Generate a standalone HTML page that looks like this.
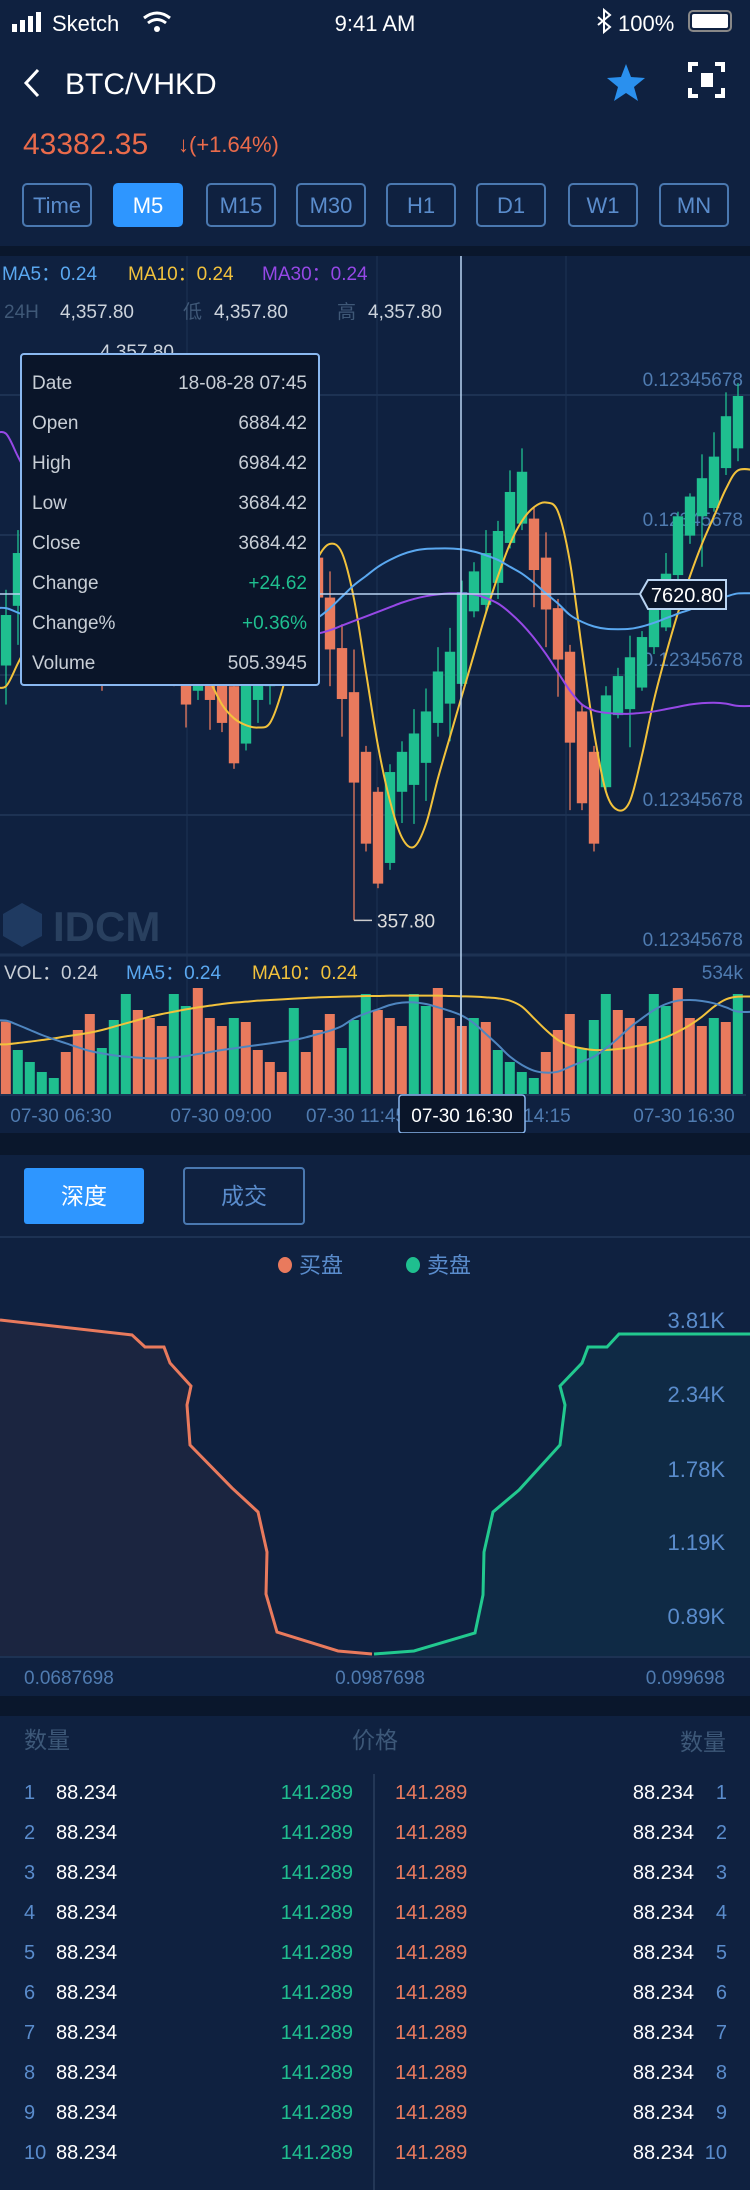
<!DOCTYPE html>
<html><head><meta charset="utf-8">
<style>
html,body{margin:0;padding:0;background:#0f2140;width:750px;height:2190px;overflow:hidden;font-family:"Liberation Sans","Noto Sans CJK SC",sans-serif;}
svg{position:absolute;left:0;top:0;}
text{font-family:"Liberation Sans","Noto Sans CJK SC",sans-serif;}
</style></head>
<body>
<svg id="root" width="750" height="2190" viewBox="0 0 750 2190" xmlns="http://www.w3.org/2000/svg">
<rect x="0" y="0" width="750" height="2190" fill="#0f2140"/>
<!-- status bar -->
<g fill="#fff">
<rect x="12" y="24" width="5" height="8"/><rect x="20" y="20" width="5" height="12"/><rect x="28" y="16" width="5" height="16"/><rect x="36" y="12" width="5" height="20"/>
<text x="52" y="31" font-size="22">Sketch</text>
<path d="M144 18 Q157 8 170 18" stroke="#fff" stroke-width="3" fill="none"/><path d="M148 23 Q157 16 166 23" stroke="#fff" stroke-width="3" fill="none"/><circle cx="157" cy="29" r="3"/>
<text x="375" y="31" font-size="22" text-anchor="middle">9:41 AM</text>
<path d="M598 17 L610 27 L604 32 L604 10 L610 15 L598 25" stroke="#fff" stroke-width="2" fill="none"/>
<text x="618" y="31" font-size="22">100%</text>
<rect x="689" y="11" width="42" height="20" rx="4" fill="none" stroke="#888" stroke-width="2"/>
<rect x="692" y="14" width="36" height="14" rx="2"/>
</g>
<!-- header -->
<polyline points="38,70 26,83 38,96" stroke="#fff" stroke-width="3" fill="none"/>
<text x="65" y="94" font-size="30" fill="#fff">BTC/VHKD</text>
<polygon points="626,64 631,77 645,78 634,87 638,101 626,93 614,101 618,87 607,78 621,77" fill="#2a90ee"/>
<g stroke="#fff" stroke-width="4" fill="none">
<polyline points="690,72 690,64 698,64"/><polyline points="715,64 723,64 723,72"/><polyline points="690,88 690,96 698,96"/><polyline points="715,96 723,96 723,88"/>
<rect x="701" y="73" width="12" height="14" fill="#fff" stroke="none"/>
</g>
<text x="23" y="154" font-size="30" fill="#ea6b4b">43382.35</text>
<text x="178" y="152" font-size="22" fill="#ea6b4b">↓(+1.64%)</text>
<g id="periods"></g>
<rect x="0" y="246" width="750" height="10" fill="#0a172c"/>
<g id="kline"></g>
<g id="depth"></g>
<g id="book"></g>
</svg>
<script>
// ===== K-line data =====
const opens  = [695,825,900,840,950,860,780,880,780,700,800,880,800,720,800,720,640,700,700,650,525,620,650,800,880,820,930,843,733,637,507,420,265,420,435,483,570,612,655,813,827,875,962,1004,1015,930,820,725,595,507,430,587,600,647,735,778,892,978,1020,1038,1125,1168];
const closes = [805,940,800,960,840,750,900,720,660,820,900,780,700,840,670,610,740,620,570,482,660,700,750,700,780,900,843,730,622,440,307,220,463,507,547,595,682,725,855,900,940,988,1073,1117,903,817,708,527,395,307,630,672,713,757,822,895,1020,1063,1103,1150,1238,1282];
const highs  = [860,990,950,1000,975,880,920,900,800,840,930,900,820,860,820,740,760,750,720,670,680,720,770,820,900,920,960,900,785,730,520,430,480,530,600,645,735,777,880,920,990,1010,1120,1168,1040,985,840,740,610,520,650,690,760,770,873,940,1030,1070,1155,1203,1290,1310];
const lows   = [610,740,750,800,810,720,760,690,640,680,780,760,680,700,650,560,620,555,550,470,510,570,610,680,760,800,800,650,540,140,290,210,250,352,350,400,540,530,650,800,810,840,950,990,822,735,627,380,380,290,420,580,517,640,720,770,880,960,910,1030,1110,1140];
const ma5  = [820,810,800,790,780,770,760,750,740,730,725,720,720,720,720,725,730,735,740,750,760,770,780,785,790,795,800,820,845,870,890,910,925,937,945,949,950,950,948,943,935,925,910,895,875,852,830,805,790,780,775,774,775,780,788,798,808,817,828,837,845,852];
const ma10 = [650,700,750,780,800,820,840,820,780,740,720,740,760,750,730,720,700,660,610,580,565,560,570,640,750,860,930,960,940,840,680,520,400,320,300,350,450,540,630,720,810,890,960,1010,1040,1050,1030,920,730,550,420,380,400,500,620,720,810,890,960,1020,1080,1120];
const ma30 = [1200,1150,1100,1060,1020,980,940,900,860,830,800,780,760,745,735,730,730,732,735,740,745,750,755,760,762,764,765,772,782,792,802,812,822,832,840,846,850,852,852,850,842,830,810,785,755,720,680,640,610,597,592,590,590,592,595,600,605,610,613,614,612,607];
const volumes = [217,132,96,66,48,126,192,240,138,222,300,252,228,204,300,264,318,228,204,228,216,132,96,66,258,126,192,240,138,222,300,252,228,204,300,264,318,228,204,228,216,132,96,66,48,126,192,240,138,222,300,252,228,204,300,264,318,228,204,228,216,300];
const volUp = [0,1,1,1,1,0,0,0,1,1,1,0,0,0,1,1,0,0,0,1,0,0,0,0,1,0,0,0,1,1,1,0,0,0,1,1,0,0,0,1,0,1,1,1,1,0,0,0,1,1,1,0,0,0,1,1,0,0,0,1,0,1];
const volMa5 = [220,207,192,177,164,152,140,129,122,116,112,109,107,107,110,114,120,126,132,137,142,147,152,157,162,170,180,190,204,227,242,254,267,274,275,270,260,249,235,212,180,147,112,87,70,64,67,82,97,112,137,167,200,227,252,270,280,282,279,272,260,247];
const volMa10 = [149,153,157,162,167,173,178,184,192,202,212,222,232,240,247,254,260,265,270,274,277,280,282,284,286,288,290,291,292,293,294,294,295,295,295,295,295,294,293,292,290,287,280,262,227,192,162,145,137,132,132,135,140,147,157,170,187,207,232,262,284,292];
const priceTicks = ["0.12345678","0.12345678","0.12345678","0.12345678","0.12345678"];
const timeTicks = ["07-30 06:30","07-30 09:00","07-30 11:45","07-30 14:15","07-30 16:30"];
const periods = ["Time","M5","M15","M30","H1","D1","W1","MN"];
// ===== Depth data =====
const bidPrices = [0.0600,0.0732,0.0745,0.0764,0.0770,0.0791,0.0787,0.0790,0.0832,0.0858,0.0867,0.0866,0.0877,0.0938,0.0972];
const bidVolumes = [3810,3640,3503,3503,3322,3061,2846,2392,1905,1633,1179,703,272,57,23];
const askPrices = [0.0974,0.1014,0.1075,0.1083,0.1084,0.1093,0.1119,0.1160,0.1165,0.1160,0.1182,0.1188,0.1207,0.1219,0.1350];
const askVolumes = [23,57,261,692,1179,1633,1882,2392,2846,3061,3322,3503,3503,3651,3651];
const depthTicks = ["3.81K","2.34K","1.78K","1.19K","0.89K"];
const depthPriceLabels = ["0.0687698","0.0987698","0.099698"];
const bookQty = ["88.234","88.234","88.234","88.234","88.234","88.234","88.234","88.234","88.234","88.234"];
const bookPrice = ["141.289","141.289","141.289","141.289","141.289","141.289","141.289","141.289","141.289","141.289"];

const NS='http://www.w3.org/2000/svg';
const GREEN='#1fbf8f', RED='#e97a5d';
function mk(parent,tag,attrs,txt){const e=document.createElementNS(NS,tag);for(const k in attrs)e.setAttribute(k,attrs[k]);if(txt!==undefined)e.textContent=txt;parent.appendChild(e);return e;}
function smooth(pts){let d='M'+pts[0][0]+','+pts[0][1];for(let i=0;i<pts.length-1;i++){const p0=pts[Math.max(0,i-1)],p1=pts[i],p2=pts[i+1],p3=pts[Math.min(pts.length-1,i+2)];d+=' C'+(p1[0]+(p2[0]-p0[0])/6)+','+(p1[1]+(p2[1]-p0[1])/6)+' '+(p2[0]-(p3[0]-p1[0])/6)+','+(p2[1]-(p3[1]-p1[1])/6)+' '+p2[0]+','+p2[1];}return d;}
// axes
const P_MAX=1600, P_Y0=250, P_SCALE=2.178;
function xk(i){return 6+12*i;}
function yp(p){return P_Y0+(P_MAX-p)/P_SCALE;}
const VOL_BASE=1094, VOL_SCALE=3;
function yv(v){return VOL_BASE-v/VOL_SCALE;}

// period buttons
const pg=document.getElementById('periods');
const pbx=[23,114,207,297,387,477,569,660];
periods.forEach((p,i)=>{
  const r=mk(pg,'rect',{x:pbx[i],y:184,width:68,height:42,rx:4,fill:p==='M5'?'#2e96ff':'none',stroke:p==='M5'?'#2e96ff':'#4a78b0','stroke-width':2});
  
  
  const t=mk(pg,'text',{x:pbx[i]+34,y:213,'font-size':22,'text-anchor':'middle',fill:p==='M5'?'#fff':'#5a8ccc'},p);
  
  
});

// kline
const kg=document.getElementById('kline');
const defs=mk(kg,'defs',{});
const cp=mk(defs,'clipPath',{id:'kclip'});mk(cp,'rect',{x:0,y:256,width:750,height:698});
const cpv=mk(defs,'clipPath',{id:'vclip'});mk(cpv,'rect',{x:0,y:990,width:750,height:104});
// grid
[395,535,675,815].forEach(y=>{const l=mk(kg,'line',{x1:0,x2:750,y1:y,y2:y,stroke:'#1d3253','stroke-width':2});});
mk(kg,'line',{x1:0,x2:750,y1:955,y2:955,stroke:'#1d3253','stroke-width':3});
[187,377,566].forEach(x=>{const l=mk(kg,'line',{x1:x,x2:x,y1:256,y2:1094,stroke:'#1d3253','stroke-width':1});});
// watermark
const wm=mk(kg,'g',{opacity:0.35});

mk(wm,'polygon',{points:'22,903 42,914 42,936 22,947 3,936 3,914',fill:'#3d6a9e'});
mk(wm,'text',{x:53,y:941,'font-size':42,'font-weight':'bold',fill:'#5a7a99'},'IDCM');
// price labels
const tickY=[379,519,659,799,939];
priceTicks.forEach((t,i)=>{const e=mk(kg,'text',{x:743,y:tickY[i]+7,'font-size':19,'text-anchor':'end',fill:'#4f7bb0'},t);});
const cg=mk(kg,'g',{'clip-path':'url(#kclip)'});
opens.forEach((o,i)=>{
  const c=closes[i],up=c>=o,col=up?GREEN:RED,x=xk(i);
  const w=mk(cg,'line',{x1:x,x2:x,y1:yp(highs[i]),y2:yp(lows[i]),stroke:col,'stroke-width':1.3});
  
  const top=yp(Math.max(o,c)),bot=yp(Math.min(o,c));
  const b=mk(cg,'rect',{x:x-5.2,y:top,width:10.4,height:Math.max(1,bot-top),fill:col});
  
});
[[ma10,'#f2c23c','ma10-line'],[ma5,'#5aa8f0','ma5-line'],[ma30,'#9648e6','ma30-line']].forEach(([arr,col,nm])=>{
  const pts=arr.map((v,i)=>[xk(i),yp(v)]);pts.unshift([-6,pts[0][1]]);pts.push([756,pts[pts.length-1][1]]);
  const p=mk(cg,'path',{d:smooth(pts),stroke:col,'stroke-width':2,fill:'none'});
  
});
// low label
const li=29;
mk(kg,'line',{x1:xk(li),x2:xk(li)+18,y1:yp(lows[li]),y2:yp(lows[li]),stroke:'#ccc','stroke-width':1.5});
const ll=mk(kg,'text',{x:xk(li)+23,y:yp(lows[li])+7,'font-size':19,fill:'#ddd'},'357.80');

// legend
const lg=mk(kg,'g',{'font-size':19});

mk(lg,'text',{x:2,y:280,fill:'#5aa8f0'},'MA5：0.24');
mk(lg,'text',{x:128,y:280,fill:'#f2c23c'},'MA10：0.24');
mk(lg,'text',{x:262,y:280,fill:'#9648e6'},'MA30：0.24');
const sg=mk(kg,'g',{'font-size':19});

mk(sg,'text',{x:4,y:318,fill:'#3f5877'},'24H');mk(sg,'text',{x:60,y:318,fill:'#ccd3dc'},'4,357.80');
mk(sg,'text',{x:183,y:318,fill:'#3f5877'},'低');mk(sg,'text',{x:214,y:318,fill:'#ccd3dc'},'4,357.80');
mk(sg,'text',{x:337,y:318,fill:'#3f5877'},'高');mk(sg,'text',{x:368,y:318,fill:'#ccd3dc'},'4,357.80');
mk(kg,'text',{x:100,y:358,'font-size':19,fill:'#ccd3dc'},'4,357.80');
// crosshair
mk(kg,'line',{x1:461,x2:461,y1:256,y2:1094,stroke:'#b9d4f2','stroke-width':1.5});
mk(kg,'line',{x1:0,x2:640,y1:594,y2:594,stroke:'#b9d4f2','stroke-width':1.5});
const cl=mk(kg,'g',{});

mk(cl,'polygon',{points:'640,594 648,580 726,580 726,609 648,609',fill:'#0a1529',stroke:'#b9d4f2','stroke-width':2});
mk(cl,'text',{x:687,y:602,'font-size':20,'text-anchor':'middle',fill:'#fff'},'7620.80');
// tooltip
const tt=mk(kg,'g',{});

mk(tt,'rect',{x:21,y:354,width:298,height:331,rx:3,fill:'#0a1529',stroke:'#8ab8f0','stroke-width':2});
const tlab=['Date','Open','High','Low','Close','Change','Change%','Volume'];
const tval=['18-08-28 07:45','6884.42','6984.42','3684.42','3684.42','+24.62','+0.36%','505.3945'];
tlab.forEach((l,i)=>{const y=389+40*i;mk(tt,'text',{x:32,y:y,'font-size':19,fill:'#c8ced6'},l);mk(tt,'text',{x:307,y:y,'font-size':19,'text-anchor':'end',fill:(i===5||i===6)?GREEN:'#c8ced6'},tval[i]);});
// volume
const vg=mk(kg,'g',{});
const vleg=mk(vg,'g',{'font-size':19});

mk(vleg,'text',{x:4,y:979,fill:'#c8ced6'},'VOL：0.24');mk(vleg,'text',{x:126,y:979,fill:'#5aa8f0'},'MA5：0.24');mk(vleg,'text',{x:252,y:979,fill:'#f2c23c'},'MA10：0.24');
mk(vleg,'text',{x:743,y:979,'text-anchor':'end',fill:'#4f7bb0'},'534k');
volumes.forEach((v,i)=>{const b=mk(vg,'rect',{x:xk(i)-5.2,y:yv(v),width:10,height:v/VOL_SCALE,fill:volUp[i]?GREEN:RED});});
const vcg=mk(vg,'g',{'clip-path':'url(#vclip)'});
[[volMa10,'#f2c23c','volume-ma10-line'],[volMa5,'#4f86c0','volume-ma5-line']].forEach(([arr,col,nm])=>{
  const pts=arr.map((v,i)=>[xk(i),yv(v)]);pts.unshift([-6,pts[0][1]]);pts.push([756,pts[pts.length-1][1]]);
  const p=mk(vcg,'path',{d:smooth(pts),stroke:col,'stroke-width':2,fill:'none'});
  
});
mk(kg,'line',{x1:461,x2:461,y1:990,y2:1094,stroke:'#b9d4f2','stroke-width':1.5});
mk(kg,'line',{x1:0,x2:746,y1:1095,y2:1095,stroke:'#1d3253','stroke-width':2});
const tx=[61,221,356,520,684];
timeTicks.forEach((t,i)=>{const e=mk(kg,'text',{x:tx[i],y:1122,'font-size':19,'text-anchor':'middle',fill:'#4f7bb0'},t);});
const hb=mk(kg,'g',{});

mk(hb,'rect',{x:399,y:1095,width:126,height:38,rx:3,fill:'#0a1529',stroke:'#8ab8f0','stroke-width':1.5});
mk(hb,'text',{x:462,y:1122,'font-size':19,'text-anchor':'middle',fill:'#fff'},'07-30 16:30');
mk(kg,'rect',{x:0,y:1133,width:750,height:22,fill:'#0a172c'});

// depth
const dg=document.getElementById('depth');
const b1=mk(dg,'rect',{x:24,y:1168,width:120,height:56,rx:3,fill:'#2e96ff'});
mk(dg,'text',{x:84,y:1204,'font-size':23,'text-anchor':'middle',fill:'#fff'},'深度');
const b2=mk(dg,'rect',{x:184,y:1168,width:120,height:56,rx:3,fill:'none',stroke:'#4a78b0','stroke-width':2});
mk(dg,'text',{x:244,y:1204,'font-size':23,'text-anchor':'middle',fill:'#5a8ccc'},'成交');
mk(dg,'line',{x1:0,x2:750,y1:1237,y2:1237,stroke:'#1d3253','stroke-width':2});
const dl=mk(dg,'g',{'font-size':22});
mk(dl,'ellipse',{cx:285,cy:1265,rx:7,ry:8,fill:RED});mk(dl,'text',{x:299,y:1273,fill:'#5a8ccc'},'买盘');
mk(dl,'ellipse',{cx:413,cy:1265,rx:7,ry:8,fill:GREEN});mk(dl,'text',{x:427,y:1273,fill:'#5a8ccc'},'卖盘');
const D_PMIN=0.06,D_PMAX=0.135,D_BASE=1656,D_K=0.0882;
function dx(p){return (p-D_PMIN)/(D_PMAX-D_PMIN)*750;}
function dy(v){return D_BASE-v*D_K;}
function depthPath(ps,vs){return ps.map((p,i)=>(i?'L':'M')+dx(p)+','+dy(vs[i])).join(' ');}
const bp=depthPath(bidPrices,bidVolumes), ap=depthPath(askPrices,askVolumes);
mk(dg,'path',{d:bp+' L'+dx(bidPrices[bidPrices.length-1])+','+D_BASE+' L0,'+D_BASE+' Z',fill:'#1b2540'});
mk(dg,'path',{d:ap+' L750,'+D_BASE+' L'+dx(askPrices[0])+','+D_BASE+' Z',fill:'#0f2a45'});
const bl=mk(dg,'path',{d:bp,stroke:RED,'stroke-width':3,fill:'none'});
const al=mk(dg,'path',{d:ap,stroke:'#22c98f','stroke-width':3,fill:'none'});
const dty=[1320,1394,1469,1542,1616];
depthTicks.forEach((t,i)=>{const e=mk(dg,'text',{x:725,y:dty[i]+8,'font-size':22,'text-anchor':'end',fill:'#5a8ccc'},t);});
mk(dg,'line',{x1:0,x2:750,y1:1657,y2:1657,stroke:'#1d3253','stroke-width':2});
const dxl=[[24,'start'],[380,'middle'],[725,'end']];
depthPriceLabels.forEach((t,i)=>{const e=mk(dg,'text',{x:dxl[i][0],y:1684,'font-size':19,'text-anchor':dxl[i][1],fill:'#4f7bb0'},t);});
mk(dg,'rect',{x:0,y:1696,width:750,height:20,fill:'#0a172c'});

// order book
const bg=document.getElementById('book');
const hh=mk(bg,'g',{'font-size':23,fill:'#3d5878'});
mk(hh,'text',{x:24,y:1748},'数量');mk(hh,'text',{x:375,y:1748,'text-anchor':'middle'},'价格');mk(hh,'text',{x:726,y:1750,'text-anchor':'end'},'数量');
mk(bg,'line',{x1:374,x2:374,y1:1774,y2:2190,stroke:'#2a3f5e','stroke-width':1.5});
bookQty.forEach((q,i)=>{
  const y=1799+40*i;
  const r=mk(bg,'g',{'font-size':20});
  
  mk(r,'text',{x:24,y:y,fill:'#5a8ccc'},String(i+1));
  mk(r,'text',{x:56,y:y,fill:'#fff'},q);
  mk(r,'text',{x:353,y:y,'text-anchor':'end',fill:GREEN},bookPrice[i]);
  mk(r,'text',{x:395,y:y,fill:RED},bookPrice[i]);
  mk(r,'text',{x:694,y:y,'text-anchor':'end',fill:'#fff'},q);
  mk(r,'text',{x:727,y:y,'text-anchor':'end',fill:'#5a8ccc'},String(i+1));
});
</script>
</body></html>
